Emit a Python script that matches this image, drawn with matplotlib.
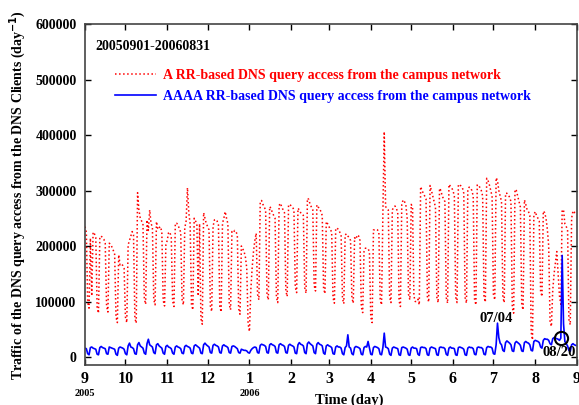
import numpy as np
import pandas as pd
import matplotlib
matplotlib.use("Agg")
import matplotlib.pyplot as plt
from matplotlib.transforms import blended_transform_factory

# daily values, one row per week (Thu .. Wed), in thousands
red_rows = [
    [235, 225, 98, 88, 214, 110, 225],
    [222, 215, 90, 79, 216, 218, 215],
    [212, 205, 92, 81, 205, 203, 198],
    [192, 185, 72, 62, 184, 166, 168],
    [165, 160, 72, 62, 202, 210, 218],
    [226, 220, 70, 61, 296, 265, 250],
    [245, 240, 105, 95, 247, 228, 265],
    [240, 235, 104, 94, 244, 230, 233],
    [235, 225, 102, 92, 202, 210, 224],
    [225, 215, 101, 91, 241, 241, 238],
    [231, 225, 104, 94, 232, 245, 305],
    [260, 240, 95, 85, 250, 245, 240],
    [110, 240, 69, 59, 260, 250, 240],
    [235, 229, 92, 82, 235, 247, 248],
    [245, 238, 91, 81, 241, 250, 262],
    [250, 240, 95, 85, 226, 224, 228],
    [226, 220, 87, 77, 200, 195, 190],
    [180, 160, 60, 46, 120, 160, 190],
    [210, 223, 113, 103, 280, 282, 275],
    [270, 265, 113, 103, 271, 268, 260],
    [255, 250, 108, 98, 273, 277, 270],
    [265, 260, 119, 109, 274, 275, 272],
    [270, 265, 126, 116, 268, 265, 260],
    [259, 255, 125, 115, 286, 284, 275],
    [270, 265, 129, 119, 274, 270, 268],
    [262, 255, 124, 114, 244, 240, 235],
    [230, 225, 107, 97, 232, 232, 230],
    [225, 220, 106, 96, 220, 222, 218],
    [215, 210, 107, 97, 215, 212, 220],
    [218, 210, 90, 80, 190, 196, 196],
    [195, 190, 72, 62, 229, 229, 230],
    [229, 225, 104, 94, 260, 406, 271],
    [268, 265, 108, 98, 265, 270, 272],
    [268, 260, 101, 91, 275, 283, 280],
    [275, 250, 113, 103, 275, 270, 110],
    [100, 100, 104, 94, 307, 300, 295],
    [290, 285, 109, 99, 309, 300, 290],
    [280, 270, 108, 98, 304, 300, 290],
    [285, 280, 107, 97, 311, 308, 305],
    [300, 290, 108, 98, 311, 310, 308],
    [305, 295, 107, 97, 302, 306, 305],
    [300, 290, 104, 94, 310, 310, 305],
    [300, 290, 109, 99, 322, 318, 310],
    [300, 290, 113, 103, 323, 318, 300],
    [290, 280, 108, 98, 295, 295, 292],
    [288, 280, 89, 79, 302, 300, 290],
    [280, 270, 95, 85, 283, 275, 265],
    [262, 255, 45, 31, 256, 262, 255],
    [250, 245, 119, 109, 263, 260, 250],
    [230, 200, 65, 55, 120, 150, 170],
    [190, 150, 110, 95, 265, 265, 240],
    [235, 230, 68, 58, 250, 263, 260],
    [265],
]

blue_rows = [
    [16, 15, 6, 4, 17, 18, 16],
    [15, 14, 5, 4, 17, 19, 17],
    [16, 15, 6, 5, 18, 17, 16],
    [15, 14, 5, 3, 16, 18, 17],
    [16, 14, 6, 4, 20, 25, 18],
    [17, 15, 6, 5, 22, 26, 20],
    [18, 16, 7, 5, 24, 32, 22],
    [20, 18, 8, 6, 22, 24, 20],
    [18, 16, 7, 5, 19, 21, 18],
    [17, 15, 7, 5, 18, 20, 18],
    [17, 15, 7, 6, 19, 21, 19],
    [18, 16, 7, 6, 20, 22, 20],
    [18, 16, 7, 6, 22, 25, 22],
    [20, 18, 8, 7, 21, 23, 21],
    [20, 18, 8, 7, 20, 22, 20],
    [19, 17, 8, 7, 19, 20, 19],
    [17, 15, 8, 7, 14, 13, 12],
    [12, 11, 8, 7, 12, 15, 17],
    [18, 17, 8, 7, 21, 23, 22],
    [21, 19, 8, 7, 22, 24, 22],
    [21, 19, 8, 7, 22, 24, 22],
    [21, 19, 8, 7, 21, 23, 21],
    [20, 18, 7, 6, 22, 26, 23],
    [22, 20, 8, 6, 24, 27, 24],
    [22, 20, 8, 6, 23, 26, 23],
    [22, 20, 7, 5, 20, 22, 20],
    [19, 17, 6, 5, 18, 20, 18],
    [18, 16, 6, 4, 17, 20, 40],
    [18, 16, 6, 4, 17, 19, 18],
    [17, 15, 5, 4, 17, 19, 18],
    [28, 16, 5, 4, 17, 19, 18],
    [17, 15, 5, 4, 17, 43, 18],
    [17, 15, 5, 3, 16, 18, 17],
    [16, 15, 4, 3, 17, 18, 17],
    [16, 14, 4, 3, 16, 18, 16],
    [16, 15, 5, 3, 17, 18, 17],
    [17, 15, 4, 3, 16, 18, 17],
    [16, 15, 4, 3, 17, 18, 17],
    [17, 15, 5, 3, 16, 18, 16],
    [16, 15, 4, 3, 17, 18, 17],
    [16, 14, 4, 3, 16, 18, 17],
    [17, 15, 5, 4, 17, 18, 17],
    [17, 15, 5, 4, 17, 19, 18],
    [18, 16, 6, 5, 22, 61, 35],
    [25, 22, 12, 10, 26, 29, 27],
    [25, 22, 11, 10, 25, 28, 26],
    [24, 21, 11, 10, 26, 28, 26],
    [25, 22, 12, 11, 28, 30, 29],
    [28, 26, 18, 16, 30, 33, 32],
    [32, 30, 24, 22, 33, 35, 34],
    [33, 32, 30, 34, 183, 60, 28],
    [24, 20, 12, 10, 22, 24, 22],
    [21],
]

red = np.concatenate(red_rows) * 1000
blue = np.concatenate(blue_rows) * 1000
dates = pd.date_range("2005-09-01", periods=len(red), freq="D")

month_labels = ["9", "10", "11", "12", "1", "2", "3", "4", "5", "6", "7", "8", "9"]
yticks = [0, 100000, 200000, 300000, 400000, 500000, 600000]

serif = "Liberation Serif"

fig = plt.figure(figsize=(5.79, 4.05), dpi=100)
ax = fig.add_axes([85 / 579, 1 - 365 / 405, 492 / 579, 341 / 405])

ax.plot(dates, red, color="red", linestyle=":", linewidth=1.1,
        label="A RR-based DNS query access from the campus network")
ax.plot(dates, blue, color="blue", linestyle="-", linewidth=1.2,
        label="AAAA RR-based DNS query access from the campus network")

# circled point on 08/20
i820 = list(dates).index(pd.Timestamp("2006-08-20"))
ax.plot(dates[i820], blue[i820], "o", mfc="none", mec="black", ms=9.5, mew=1.5)

ax.set_xlim(pd.Timestamp("2005-09-01"), pd.Timestamp("2006-09-01"))
ax.set_ylim(-14400, 600000)

ticks = pd.date_range("2005-09-01", "2006-09-01", freq="MS")
ax.set_xticks(ticks)
ax.set_xticklabels(month_labels)
ax.set_yticks(yticks)
ax.set_yticklabels([str(v) for v in yticks])

ax.tick_params(direction="in", top=True, right=True, length=4, width=1, pad=6)
ax.tick_params(axis="x", pad=4)
for lab in ax.get_xticklabels():
    lab.set_fontfamily(serif)
    lab.set_fontweight("bold")
    lab.set_fontsize(11.5)
for lab in ax.get_yticklabels():
    lab.set_fontfamily(serif)
    lab.set_fontweight("bold")
    lab.set_fontsize(10)
for s in ax.spines.values():
    s.set_color("#444444")
    s.set_linewidth(1.2)

# year labels under the month ticks
tr = blended_transform_factory(ax.transData, fig.transFigure)
ax.text(pd.Timestamp("2005-09-01"), 1 - 393 / 405, "2005", transform=tr,
        ha="center", va="center", fontfamily=serif, fontweight="bold", fontsize=7.5)
ax.text(pd.Timestamp("2006-01-01"), 1 - 393 / 405, "2006", transform=tr,
        ha="center", va="center", fontfamily=serif, fontweight="bold", fontsize=7.5)

fig.text(349 / 579, 1 - 394 / 405, "Time (day)", ha="center", va="top",
         fontfamily=serif, fontweight="bold", fontsize=10.5)
fig.text(18 / 579, 1 - 195 / 405,
         "Traffic of the DNS query access from the DNS Clients (day$^{\\mathbf{-1}}$)",
         rotation=90, ha="center", va="center",
         fontfamily=serif, fontweight="bold", fontsize=10)

ax.text(0.022, 0.935, "20050901-20060831", transform=ax.transAxes,
        ha="left", va="center", fontfamily=serif, fontweight="bold", fontsize=10)

ax.text(pd.Timestamp("2006-07-03"), 70000, "07/04", ha="center", va="center",
        fontfamily=serif, fontweight="bold", fontsize=10.5)
ax.text(pd.Timestamp("2006-08-19"), 9000, "08/20", ha="center", va="center",
        fontfamily=serif, fontweight="bold", fontsize=10.5)

ax.legend(loc="upper left", bbox_to_anchor=(0.035, 0.905), frameon=False,
          handlelength=3.0, handletextpad=0.5, labelspacing=0.6,
          labelcolor="linecolor",
          prop={"family": serif, "weight": "bold", "size": 10})

fig.savefig("out.png", dpi=100)
